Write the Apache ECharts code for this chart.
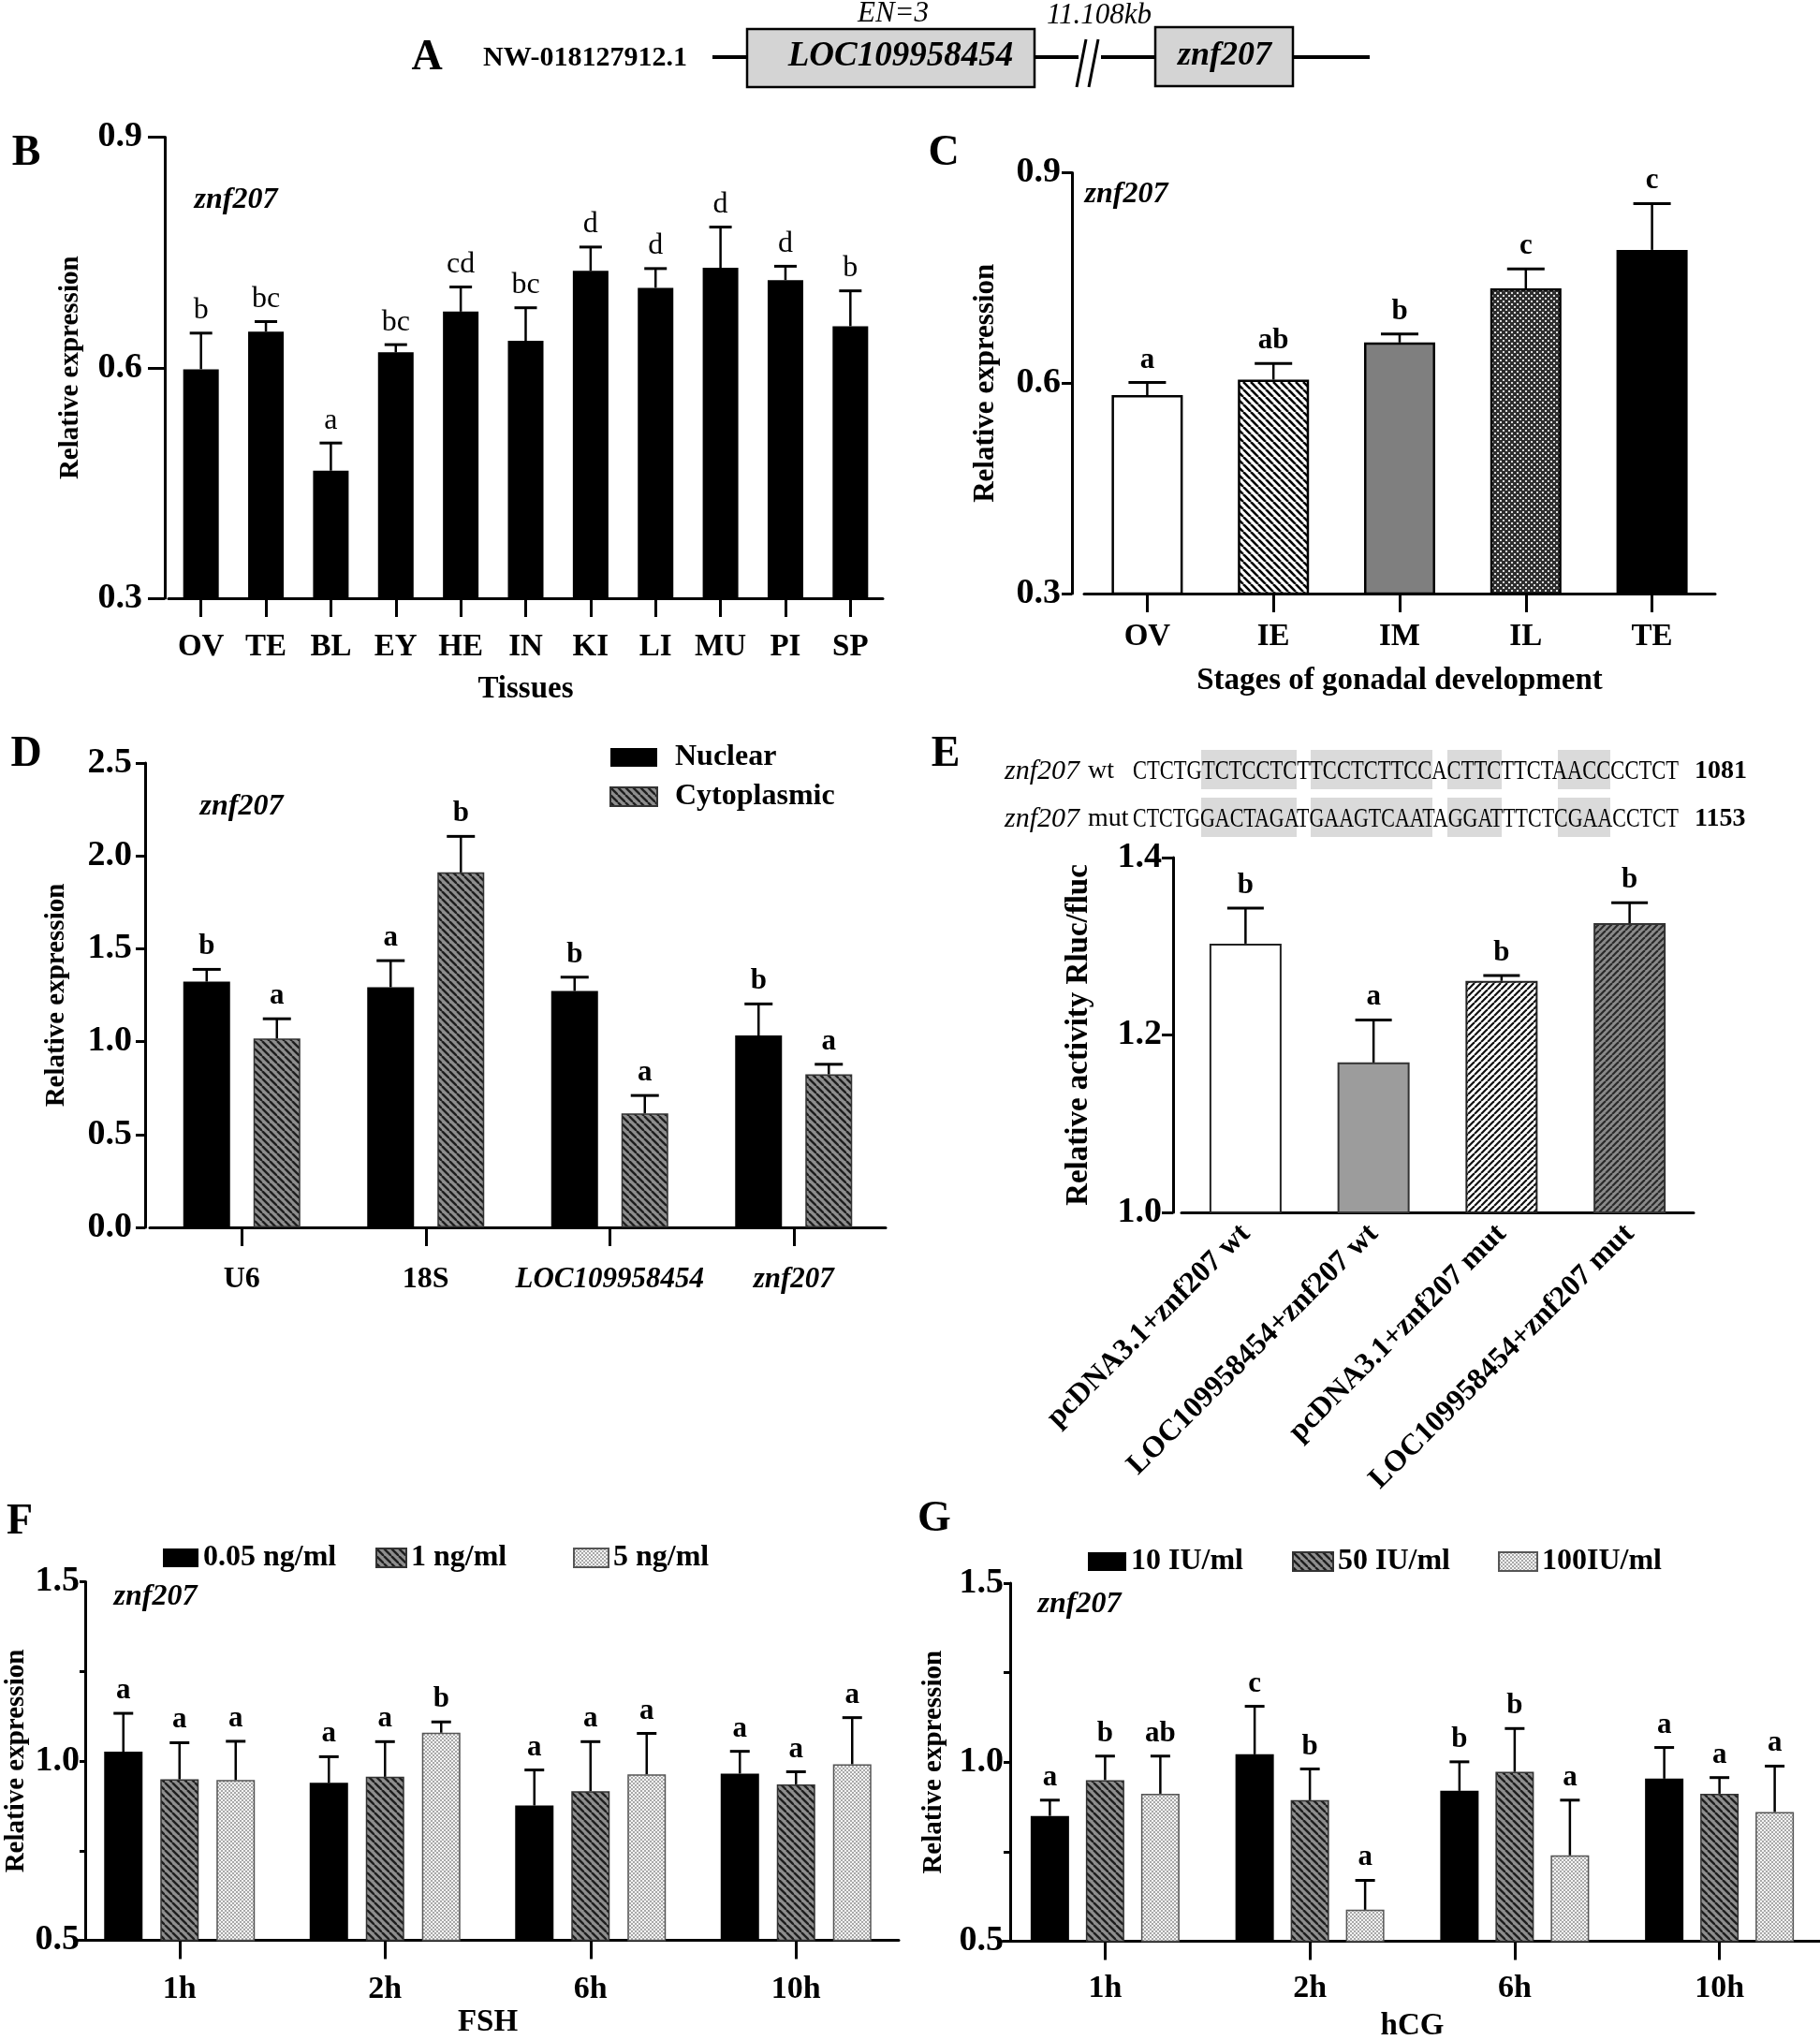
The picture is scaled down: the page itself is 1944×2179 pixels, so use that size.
<!DOCTYPE html>
<html><head><meta charset="utf-8">
<script src="https://cdn.jsdelivr.net/npm/echarts/dist/echarts.min.js"></script>
<style>html,body{margin:0;padding:0;background:#fff}#c{width:1944px;height:2179px}</style>
</head><body><div id="c"></div>
<script>
// ---------------- DATA ----------------
const tissues = ['OV','TE','BL','EY','HE','IN','KI','LI','MU','PI','SP'];
const tissueMean = [0.598,0.647,0.466,0.620,0.673,0.635,0.726,0.704,0.730,0.714,0.654];
const tissueErr  = [0.047,0.013,0.036,0.010,0.032,0.043,0.031,0.025,0.053,0.018,0.046];
const tissueSig  = ['b','bc','a','bc','cd','bc','d','d','d','d','b'];

const stages = ['OV','IE','IM','IL','TE'];
const stageMean = [0.583,0.605,0.658,0.735,0.790];
const stageErr  = [0.018,0.023,0.012,0.028,0.066];
const stageSig  = ['a','ab','b','c','c'];

const genes = ['U6','18S','LOC109958454','znf207'];
const nuclearMean = [1.323,1.293,1.273,1.033];
const nuclearErr  = [0.066,0.143,0.074,0.170];
const nuclearSig  = ['b','a','b','b'];
const cytoMean = [1.017,1.911,0.614,0.824];
const cytoErr  = [0.106,0.194,0.096,0.054];
const cytoSig  = ['a','b','a','a'];

const constructs = ['pcDNA3.1+znf207 wt','LOC109958454+znf207 wt','pcDNA3.1+znf207 mut','LOC109958454+znf207 mut'];
const activityMean = [1.303,1.169,1.261,1.326];
const activityErr  = [0.040,0.048,0.006,0.023];
const activitySig  = ['b','a','b','b'];
const seqWt  = 'CTCTGTCTCCTCTTCCTCTTCCACTTCTTCTAACCCCTCT';
const seqMut = 'CTCTGGACTAGATGAAGTCAATAGGATTTCTCGAACCTCT';

const times = ['1h','2h','6h','10h'];
const fshNames = ['0.05 ng/ml','1 ng/ml','5 ng/ml'];
const fshMean = [[1.026,0.939,0.876,0.965],[0.949,0.956,0.916,0.935],[0.947,1.079,0.963,0.991]];
const fshErr  = [[0.107,0.073,0.099,0.062],[0.102,0.098,0.138,0.035],[0.108,0.030,0.114,0.130]];
const fshSig  = [['a','a','a','a'],['a','a','a','a'],['a','b','a','a']];

const hcgNames = ['10 IU/ml','50 IU/ml','100IU/ml'];
const hcgMean = [[0.850,1.022,0.920,0.954],[0.950,0.894,0.973,0.912],[0.912,0.588,0.740,0.861]];
const hcgErr  = [[0.044,0.134,0.081,0.087],[0.067,0.087,0.121,0.045],[0.105,0.082,0.154,0.128]];
const hcgSig  = [['a','c','b','a'],['b','b','b','a'],['ab','a','a','a']];

// ---------------- STYLE HELPERS ----------------
const FF = '"Liberation Serif","Times New Roman",serif';
function pat(size, bg, draw){
  const c=document.createElement('canvas'); c.width=c.height=size;
  const x=c.getContext('2d'); x.fillStyle=bg; x.fillRect(0,0,size,size); draw(x,size);
  return {image:c, repeat:'repeat'};
}
function stripes(size,bg,fg,lw,dir){
  return pat(size,bg,(x,s)=>{x.strokeStyle=fg;x.lineWidth=lw;
    for(let k=-1;k<=1;k++){x.beginPath();
      if(dir==='back'){x.moveTo(k*s,0);x.lineTo(k*s+s,s);}else{x.moveTo(k*s,s);x.lineTo(k*s+s,0);}
      x.stroke();}});
}
function checker(size,bg,fg,d){
  return pat(size,bg,(x,s)=>{x.fillStyle=fg;x.fillRect(0,0,d,d);x.fillRect(s/2,s/2,d,d);});
}
const hatchGray = stripes(8,'#8e8e8e','#1e1e1e',2.4,'back');
const dotLight = checker(4,'#f4f4f4','#a8a8a8',2);

function txt(x,y,text,font,extra){
  return Object.assign({type:'text',x:x,y:y,silent:true,
    style:{text:text,font:font,fill:'#000',align:'center',verticalAlign:'middle',textAlign:'center',textVerticalAlign:'middle'}},extra||{});
}
function errSeries(xi,means,errs,sigs,offset,cap,font){
  return {type:'custom',xAxisIndex:xi,yAxisIndex:xi,z:10,silent:true,clip:false,
    data:means.map((m,i)=>[i,m,errs[i]]),encode:{x:0,y:1},
    renderItem:(p,api)=>{
      const i=api.value(0),m=api.value(1),e=api.value(2);
      const p0=api.coord([i,m]),p1=api.coord([i,m+e]);const x=p0[0]+offset;
      return {type:'group',children:[
        {type:'line',shape:{x1:x,y1:p0[1],x2:x,y2:p1[1]},style:{stroke:'#000',lineWidth:2.5}},
        {type:'line',shape:{x1:x-cap/2,y1:p1[1],x2:x+cap/2,y2:p1[1]},style:{stroke:'#000',lineWidth:3}},
        {type:'text',x:x,y:p1[1]-24,style:{text:sigs[i],font:font,fill:'#000',align:'center',verticalAlign:'middle',textAlign:'center',textVerticalAlign:'middle'}}
      ]};
    }};
}
const axLine={show:true,lineStyle:{color:'#000',width:3}};
function catAxis(gi,data,margin,extra){
  return Object.assign({gridIndex:gi,type:'category',data:data,axisLine:axLine,
    axisTick:{show:true,alignWithLabel:true,length:20,lineStyle:{color:'#000',width:3}},
    axisLabel:{interval:0,margin:margin,color:'#000',fontFamily:FF,fontWeight:'bold',fontSize:33},
    splitLine:{show:false},
    nameLocation:'middle',nameTextStyle:{color:'#000',fontFamily:FF,fontWeight:'bold',fontSize:33}},extra||{});
}
function valAxis(gi,min,max,iv,offset,tick,margin,name,gap,nameSize,fmt){
  return {gridIndex:gi,type:'value',min:min,max:max,interval:iv,offset:offset,
    axisLine:axLine,axisTick:{show:true,length:tick,lineStyle:{color:'#000',width:3}},
    axisLabel:{margin:margin,color:'#000',fontFamily:FF,fontWeight:'bold',fontSize:38,formatter:fmt||(v=>v.toFixed(1))},
    splitLine:{show:false},name:name,nameLocation:'middle',nameGap:gap,
    nameTextStyle:{color:'#000',fontFamily:FF,fontWeight:'bold',fontSize:nameSize}};
}
const halfFmt = v => (Math.abs(v*2-Math.round(v*2))<1e-6 ? v.toFixed(1) : '');
const legText={color:'#000',fontFamily:FF,fontWeight:'bold',fontSize:32,lineHeight:34};

// bar styles
const cStyles=[{color:'#fff',borderColor:'#000',borderWidth:2.5},
  {color:stripes(8,'#fff','#000',2.6,'back'),borderColor:'#000',borderWidth:2.5},
  {color:'#7f7f7f',borderColor:'#000',borderWidth:2.5},
  {color:checker(6,'#2e2e2e','#dcdcdc',2),borderColor:'#000',borderWidth:2.5},
  {color:'#000',borderColor:'#000',borderWidth:2.5}];
const eStyles=[{color:'#fff',borderColor:'#222',borderWidth:2},
  {color:'#9c9c9c',borderColor:'#333',borderWidth:2},
  {color:stripes(7,'#fff','#111',2.2,'fwd'),borderColor:'#222',borderWidth:2},
  {color:stripes(7,'#8a8a8a','#2a2a2a',2.2,'fwd'),borderColor:'#333',borderWidth:2}];
const groupStyles=[{color:'#000'},{color:hatchGray,borderColor:'#333',borderWidth:1.5},{color:dotLight,borderColor:'#555',borderWidth:1.5}];

// ---------------- GRAPHIC (diagram, texts) ----------------
const g=[];
// Panel A
[[761,798],[1105,1152],[1176,1234],[1381,1463]].forEach(s=>g.push({type:'line',silent:true,shape:{x1:s[0],y1:61,x2:s[1],y2:61},style:{stroke:'#000',lineWidth:4}}));
g.push({type:'line',silent:true,shape:{x1:1150,y1:93,x2:1160,y2:42},style:{stroke:'#000',lineWidth:3}});
g.push({type:'line',silent:true,shape:{x1:1163,y1:93,x2:1173,y2:42},style:{stroke:'#000',lineWidth:3}});
g.push({type:'rect',silent:true,shape:{x:798,y:31,width:307,height:62},style:{fill:'#d4d4d4',stroke:'#000',lineWidth:2.5}});
g.push({type:'rect',silent:true,shape:{x:1234,y:29,width:147,height:63},style:{fill:'#d4d4d4',stroke:'#000',lineWidth:2.5}});
g.push(txt(456,62,'A','bold 46px '+FF));
g.push(txt(625,62,'NW-018127912.1','bold 30px '+FF));
g.push(txt(962,60,'LOC109958454','italic bold 37px '+FF));
g.push(txt(1308,60,'znf207','italic bold 36px '+FF));
g.push(txt(954,15,'EN=3','italic 31px '+FF));
g.push(txt(1174,17,'11.108kb','italic 31px '+FF));
// panel letters
[['B',28,164],['C',1008,164],['D',28,806],['E',1010,806],['F',21,1626],['G',998,1623]].forEach(a=>g.push(txt(a[1],a[2],a[0],'bold 46px '+FF)));
// gene labels
[[252,214],[1203,208],[258,862],[166,1706],[1153,1714]].forEach(a=>g.push(txt(a[0],a[1],'znf207','italic bold 32px '+FF)));
// Panel E sequences
[[1283,1385],[1400,1530],[1546,1604],[1664,1720]].forEach(b=>{
  g.push({type:'rect',silent:true,shape:{x:b[0],y:801,width:b[1]-b[0],height:42},style:{fill:'#dadada'}});
  g.push({type:'rect',silent:true,shape:{x:b[0],y:852,width:b[1]-b[0],height:42},style:{fill:'#dadada'}});
});
const mctx=document.createElement('canvas').getContext('2d');
function fitText(x,y,text,font,w){
  mctx.font=font; const s=w/mctx.measureText(text).width;
  return {type:'text',x:x,y:y,scaleX:s,silent:true,style:{text:text,font:font,fill:'#000',align:'left',verticalAlign:'middle',textAlign:'left',textVerticalAlign:'middle'}};
}
const seqFont='30px '+FF;
g.push(fitText(1210,824,seqWt,seqFont,583));
g.push(fitText(1210,875,seqMut,seqFont,583));
[[824,' wt','1081'],[875,' mut','1153']].forEach(r=>{
  g.push({type:'text',x:1073,y:r[0],silent:true,style:{text:'znf207',font:'italic 30px '+FF,fill:'#000',align:'left',verticalAlign:'middle',textAlign:'left',textVerticalAlign:'middle'}});
  g.push({type:'text',x:1155,y:r[0],silent:true,style:{text:r[1],font:'28px '+FF,fill:'#000',align:'left',verticalAlign:'middle',textAlign:'left',textVerticalAlign:'middle'}});
  g.push({type:'text',x:1810,y:r[0],silent:true,style:{text:r[2],font:'bold 28px '+FF,fill:'#000',align:'left',verticalAlign:'middle',textAlign:'left',textVerticalAlign:'middle'}});
});

// ---------------- OPTION ----------------
const letterB='32px '+FF, letterBold='bold 31px '+FF;
const series=[];
series.push({type:'bar',xAxisIndex:0,yAxisIndex:0,data:tissueMean,barWidth:38,itemStyle:{color:'#000'}});
series.push(errSeries(0,tissueMean,tissueErr,tissueSig,0,24,letterB));
series.push({type:'bar',xAxisIndex:1,yAxisIndex:1,barWidth:76,data:stageMean.map((v,i)=>({value:v,itemStyle:cStyles[i]}))});
series.push(errSeries(1,stageMean,stageErr,stageSig,0,40,letterBold));
series.push({type:'bar',name:'Nuclear',xAxisIndex:2,yAxisIndex:2,data:nuclearMean,barWidth:50,barGap:'50%',itemStyle:{color:'#000'}});
series.push({type:'bar',name:'Cytoplasmic',xAxisIndex:2,yAxisIndex:2,data:cytoMean,barWidth:50,barGap:'50%',itemStyle:{color:hatchGray,borderColor:'#333',borderWidth:1.5}});
series.push(errSeries(2,nuclearMean,nuclearErr,nuclearSig,-37.5,30,letterBold));
series.push(errSeries(2,cytoMean,cytoErr,cytoSig,37.5,30,letterBold));
series.push({type:'bar',xAxisIndex:3,yAxisIndex:3,barWidth:77,data:activityMean.map((v,i)=>({value:v,itemStyle:eStyles[i]}))});
series.push(errSeries(3,activityMean,activityErr,activitySig,0,39,letterBold));
fshNames.forEach((n,k)=>{
  series.push({type:'bar',name:n,xAxisIndex:4,yAxisIndex:4,data:fshMean[k],barWidth:41,barGap:'46.3%',itemStyle:groupStyles[k]});
});
fshNames.forEach((n,k)=>series.push(errSeries(4,fshMean[k],fshErr[k],fshSig[k],(k-1)*60,21,letterBold)));
hcgNames.forEach((n,k)=>{
  series.push({type:'bar',name:n,xAxisIndex:5,yAxisIndex:5,data:hcgMean[k],barWidth:41,barGap:'43.9%',itemStyle:groupStyles[k]});
});
hcgNames.forEach((n,k)=>series.push(errSeries(5,hcgMean[k],hcgErr[k],hcgSig[k],(k-1)*59,21,letterBold)));

const italicSet=['LOC109958454','znf207'];
const option={
  animation:false,
  backgroundColor:'#fff',
  grid:[
    {left:180,top:146.5,width:763,height:492.5,outerBoundsMode:'none'},
    {left:1158,top:184.5,width:674,height:449.5,outerBoundsMode:'none'},
    {left:160,top:815,width:786,height:496,outerBoundsMode:'none'},
    {left:1262,top:916,width:547,height:379,outerBoundsMode:'none'},
    {left:82,top:1689.5,width:878,height:383,outerBoundsMode:'none'},
    {left:1071,top:1691,width:875,height:382.5,outerBoundsMode:'none'}
  ],
  xAxis:[
    catAxis(0,tissues,36,{name:'Tissues',nameGap:81}),
    catAxis(1,stages,30,{name:'Stages of gonadal development',nameGap:77}),
    catAxis(2,genes,40,{axisLabel:{interval:0,margin:40,color:'#000',fontFamily:FF,fontWeight:'bold',fontSize:32,
      formatter:v=>italicSet.includes(v)?'{i|'+v+'}':v,rich:{i:{fontStyle:'italic',fontWeight:'bold',fontFamily:FF,fontSize:31,color:'#000'}}}}),
    catAxis(3,constructs,18,{axisTick:{show:false},axisLabel:{interval:0,rotate:45,margin:18,color:'#000',fontFamily:FF,fontWeight:'bold',fontSize:32}}),
    catAxis(4,times,36,{name:'FSH',nameGap:71,axisLabel:{interval:0,margin:36,color:'#000',fontFamily:FF,fontWeight:'bold',fontSize:34}}),
    catAxis(5,times,34,{name:'hCG',nameGap:74,axisLabel:{interval:0,margin:34,color:'#000',fontFamily:FF,fontWeight:'bold',fontSize:34}})
  ],
  yAxis:[
    valAxis(0,0.3,0.9,0.3,4,18,24,'Relative expression',86,29),
    valAxis(1,0.3,0.9,0.3,13,11,12,'Relative expression',77,31),
    valAxis(2,0,2.5,0.5,5,10,14,'Relative expression',80,29),
    valAxis(3,1.0,1.4,0.2,9,12,12,'Relative activity Rluc/fluc',84,33),
    valAxis(4,0.5,1.5,0.25,-9,6,6,'Relative expression',59,29,halfFmt),
    valAxis(5,0.5,1.5,0.25,-8,7,7,'Relative expression',67,29,halfFmt)
  ],
  legend:[
    {data:['Nuclear','Cytoplasmic'],orient:'vertical',left:651,top:792,itemWidth:50,itemHeight:20,itemGap:8,padding:0,selectedMode:false,icon:'rect',textStyle:Object.assign({padding:[0,0,0,14]},legText)},
    {data:[fshNames[0]],left:174,top:1647,itemWidth:38,itemHeight:20,padding:0,selectedMode:false,icon:'rect',textStyle:legText},
    {data:[fshNames[1]],left:401,top:1647,itemWidth:32,itemHeight:20,padding:0,selectedMode:false,icon:'rect',textStyle:legText},
    {data:[fshNames[2]],left:612,top:1647,itemWidth:37,itemHeight:20,padding:0,selectedMode:false,icon:'rect',textStyle:legText},
    {data:[hcgNames[0]],left:1162,top:1651,itemWidth:41,itemHeight:20,padding:0,selectedMode:false,icon:'rect',textStyle:legText},
    {data:[hcgNames[1]],left:1380,top:1651,itemWidth:43,itemHeight:20,padding:0,selectedMode:false,icon:'rect',textStyle:legText},
    {data:[hcgNames[2]],left:1600,top:1651,itemWidth:41,itemHeight:20,padding:0,selectedMode:false,icon:'rect',textStyle:legText}
  ],
  graphic:{elements:g},
  series:series
};
const chart=echarts.init(document.getElementById('c'),null,{renderer:'canvas'});
chart.setOption(option);
</script></body></html>
